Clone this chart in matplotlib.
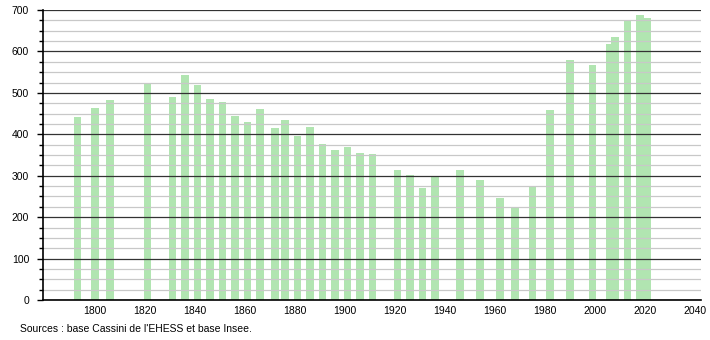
import numpy as np
import matplotlib.pyplot as plt
from matplotlib.ticker import MultipleLocator

# -------------------------
# DATA
# -------------------------

years = [1793, 1800, 1806, 1821, 1831, 1836, 1841, 1846, 1851, 1856, 1861, 1866,
         1872, 1876, 1881, 1886, 1891, 1896, 1901, 1906, 1911, 1921, 1926, 1931,
         1936, 1946, 1954, 1962, 1968, 1975, 1982, 1990, 1999, 2006, 2008, 2013,
         2018, 2021]
population = [441, 463, 483, 522, 490, 543, 519, 485, 478, 444, 430, 461,
              415, 434, 397, 418, 377, 362, 369, 355, 352, 314, 302, 271,
              297, 314, 290, 247, 223, 272, 459, 579, 567, 618, 635, 676,
              688, 681]

source_text = "Sources : base Cassini de l'EHESS et base Insee."

# -------------------------
# PLOT
# -------------------------

plt.rcParams['font.family'] = ['Liberation Sans', 'DejaVu Sans']

fig = plt.figure(figsize=(7.1, 3.4), dpi=100)
ax = fig.add_axes([43/710, 40/340, 658/710, 290/340])

ax.bar(years, population, width=3.1, color='#b1e5b1', zorder=2)

ax.set_xlim(1779.2, 2042.4)
ax.set_ylim(0, 700)
ax.set_xticks(np.arange(1800, 2041, 20))
ax.yaxis.set_major_locator(MultipleLocator(100))
ax.yaxis.set_minor_locator(MultipleLocator(25))

ax.grid(which='major', axis='y', color='#333333', linewidth=0.9, zorder=3)
ax.grid(which='minor', axis='y', color='#c8c8c8', linewidth=0.9, zorder=3)
ax.set_axisbelow(False)

for s in ['top', 'right']:
    ax.spines[s].set_visible(False)
ax.spines['left'].set_linewidth(1.2)
ax.spines['bottom'].set_linewidth(1.2)
ax.spines['left'].set_zorder(4)
ax.spines['bottom'].set_zorder(4)

ax.tick_params(axis='x', length=0, labelsize=7.5, pad=4)
ax.tick_params(axis='y', which='major', length=4, width=1, labelsize=7.5, pad=6)
ax.tick_params(axis='y', which='minor', length=3, width=1)

fig.text(20/710, 1 - 329/340, source_text, fontsize=7.5, va='center', ha='left')

fig.savefig('out.png', dpi=100)
